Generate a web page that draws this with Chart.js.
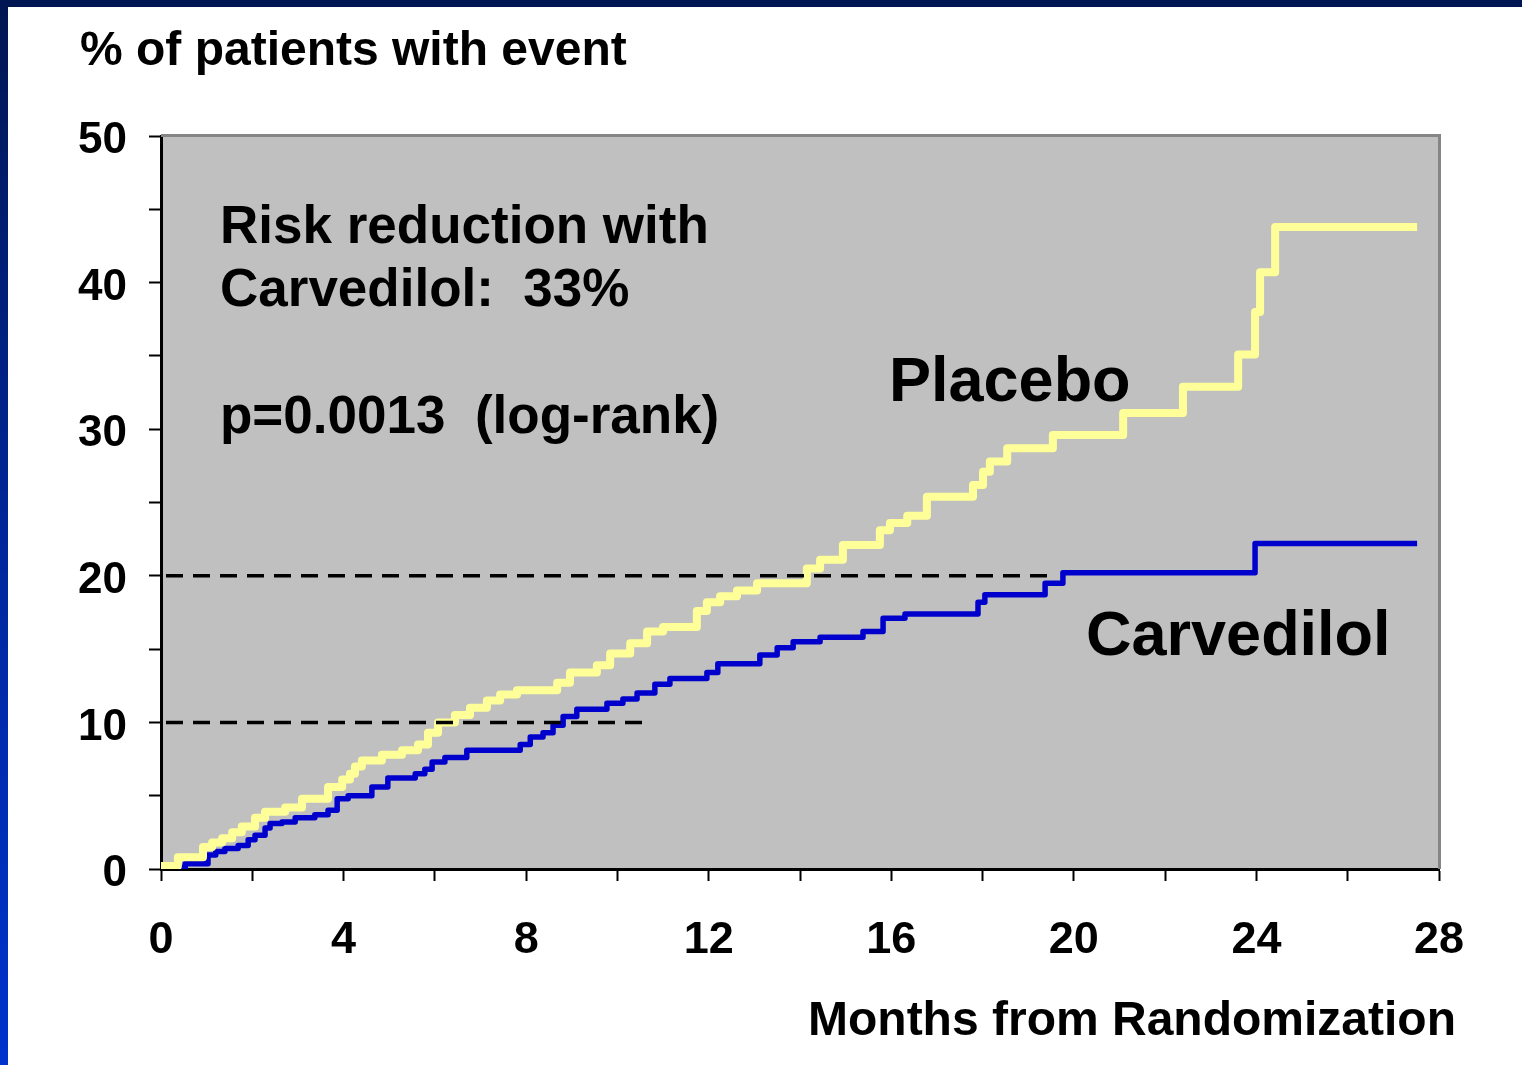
<!DOCTYPE html>
<html>
<head>
<meta charset="utf-8">
<script src="https://cdn.jsdelivr.net/npm/chart.js@4.4.1/dist/chart.umd.min.js"></script>
<style>
  html, body { margin: 0; padding: 0; background: #ffffff; }
  #wrap { position: relative; width: 1522px; height: 1065px; overflow: hidden; }
  #topbar { position: absolute; left: 0; top: 0; width: 1522px; height: 7px; background: #001652; z-index: 2; }
  #leftbar { position: absolute; left: 0; top: 0; width: 8px; height: 1065px; background: linear-gradient(to bottom, #001652 0%, #0028a0 55%, #0033cc 100%); z-index: 2; }
  canvas { position: absolute; left: 0; top: 0; }
</style>
</head>
<body>
<div id="wrap">
  <div id="topbar"></div>
  <div id="leftbar"></div>
  <canvas id="c" width="1522" height="1065"></canvas>
</div>
<script>
// ---- Data ----
const placeboMonths = [0, 0.37, 0.92, 1.12, 1.34, 1.56, 1.77, 2.06, 2.28, 2.72, 3.09, 3.66, 3.97, 4.14, 4.25, 4.40, 4.84, 5.28, 5.63, 5.85, 6.07, 6.44, 6.77, 7.14, 7.43, 7.80, 8.68, 8.96, 9.55, 9.84, 10.28, 10.65, 11.0, 11.74, 11.96, 12.25, 12.62, 13.06, 14.15, 14.44, 14.94, 15.75, 15.97, 16.35, 16.78, 17.79, 18.01, 18.16, 18.54, 19.54, 21.08, 22.39, 23.60, 23.97, 24.08, 24.41, 27.52];
const placeboPct    = [0.2, 0.8, 1.5, 1.8, 2.1, 2.5, 2.9, 3.5, 3.9, 4.2, 4.8, 5.6, 6.1, 6.5, 7.0, 7.4, 7.8, 8.1, 8.5, 9.3, 10.0, 10.5, 11.0, 11.5, 11.9, 12.2, 12.7, 13.4, 13.9, 14.7, 15.4, 16.2, 16.5, 17.6, 18.2, 18.6, 19.0, 19.5, 20.5, 21.1, 22.1, 23.1, 23.6, 24.1, 25.4, 26.2, 27.1, 27.8, 28.7, 29.6, 31.1, 32.9, 35.1, 38.0, 40.7, 43.8, 43.8];

const carvedilolMonths = [0, 0.53, 1.03, 1.2, 1.40, 1.69, 1.91, 2.06, 2.28, 2.39, 2.65, 2.94, 3.37, 3.66, 3.86, 4.10, 4.62, 4.97, 5.57, 5.78, 5.94, 6.22, 6.70, 7.87, 8.09, 8.37, 8.59, 8.81, 9.11, 9.77, 10.12, 10.43, 10.82, 11.15, 11.96, 12.20, 13.12, 13.50, 13.85, 14.44, 15.38, 15.82, 16.30, 17.90, 18.05, 19.37, 19.76, 23.97, 27.52];
const carvedilolPct    = [0.1, 0.35, 0.95, 1.2, 1.4, 1.6, 2.0, 2.3, 2.8, 3.1, 3.2, 3.5, 3.7, 4.0, 4.8, 5.0, 5.6, 6.2, 6.5, 6.8, 7.3, 7.6, 8.1, 8.5, 9.0, 9.3, 9.8, 10.4, 10.9, 11.3, 11.6, 12.0, 12.6, 13.0, 13.4, 14.0, 14.6, 15.1, 15.5, 15.8, 16.2, 17.1, 17.4, 18.2, 18.7, 19.5, 20.2, 22.2, 22.2];

const refLevels    = [20, 10];
const refEndMonths = [19.45, 10.56];

const yTickValues = [0, 10, 20, 30, 40, 50];
const xTickValues = [0, 4, 8, 12, 16, 20, 24, 28];

const yAxisTitle = '% of patients with event';
const xAxisTitle = 'Months from Randomization';
const noteLines  = ['Risk reduction with', 'Carvedilol:  33%', 'p=0.0013  (log-rank)'];
const seriesNames = ['Placebo', 'Carvedilol'];

// ---- Build datasets ----
const toPts = (xs, ys) => xs.map((x, i) => ({ x: x, y: ys[i] }));
const FONT = '"Liberation Sans", Arial, Helvetica, sans-serif';

const refDatasets = refLevels.map((lv, i) => ({
  label: 'ref' + lv,
  data: [{ x: 0, y: lv }, { x: refEndMonths[i], y: lv }],
  borderColor: '#000000',
  borderWidth: 3.5,
  borderDash: [17, 10],
  borderDashOffset: 22,
  borderCapStyle: 'butt',
  pointRadius: 0,
  stepped: false,
  order: 0
}));

const bgPlugin = {
  id: 'bgPlugin',
  beforeDraw(chart) {
    const { ctx, chartArea: a } = chart;
    ctx.save();
    ctx.fillStyle = '#c0c0c0';
    ctx.fillRect(a.left, a.top, a.right - a.left, a.bottom - a.top);
    ctx.restore();
  },
  afterDraw(chart) {
    const { ctx, chartArea: a } = chart;
    ctx.save();
    ctx.strokeStyle = '#858585';
    ctx.lineWidth = 3;
    ctx.beginPath();
    ctx.moveTo(a.left, a.top - 0.5);
    ctx.lineTo(a.right + 0.5, a.top - 0.5);
    ctx.lineTo(a.right + 0.5, a.bottom);
    ctx.stroke();

    ctx.fillStyle = '#000000';
    ctx.textBaseline = 'alphabetic';
    ctx.textAlign = 'left';
    ctx.font = 'bold 48px ' + FONT;
    ctx.fillText(yAxisTitle, 80, 65);
    ctx.fillText(xAxisTitle, 808, 1035);

    ctx.font = 'bold 53px ' + FONT;
    ctx.fillText(noteLines[0], 220, 243);
    ctx.fillText(noteLines[1], 220, 306);
    ctx.fillText(noteLines[2], 220, 433);

    ctx.font = 'bold 63px ' + FONT;
    ctx.fillText(seriesNames[0], 889, 401);
    ctx.fillText(seriesNames[1], 1086, 655);
    ctx.restore();
  }
};

const placeboStyle = { color: '#ffff99', width: 8 };
const carvedilolStyle = { color: '#0000cc', width: 5.5 };

new Chart(document.getElementById('c'), {
  type: 'line',
  data: {
    datasets: [
      ...refDatasets,
      {
        label: seriesNames[0],
        data: toPts(placeboMonths, placeboPct),
        borderColor: placeboStyle.color,
        borderWidth: placeboStyle.width,
        borderJoinStyle: 'round',
        borderCapStyle: 'butt',
        pointRadius: 0,
        stepped: true,
        fill: false,
        order: 1
      },
      {
        label: seriesNames[1],
        data: toPts(carvedilolMonths, carvedilolPct),
        borderColor: carvedilolStyle.color,
        borderWidth: carvedilolStyle.width,
        borderJoinStyle: 'round',
        borderCapStyle: 'butt',
        pointRadius: 0,
        stepped: true,
        fill: false,
        order: 2
      }
    ]
  },
  options: {
    responsive: false,
    animation: false,
    events: [],
    elements: { line: { borderWidth: 6 } },
    layout: { padding: { top: 136, right: 83, left: 0, bottom: 0 } },
    plugins: { legend: { display: false }, tooltip: { enabled: false }, title: { display: false } },
    scales: {
      x: {
        type: 'linear',
        min: 0, max: 28,
        afterFit(scale) { scale.height = 196; },
        afterBuildTicks(scale) {
          const t = [];
          for (let v = 0; v <= 28; v += 2) t.push({ value: v });
          scale.ticks = t;
        },
        ticks: {
          autoSkip: false,
          maxRotation: 0,
          padding: 33,
          color: '#000000',
          font: { family: FONT, size: 45, weight: 'bold' },
          callback: (v) => xTickValues.includes(v) ? String(v) : ''
        },
        grid: { drawOnChartArea: false, drawTicks: true, tickLength: 12, tickColor: '#000000', tickWidth: 2 },
        border: { display: true, color: '#000000', width: 3 }
      },
      y: {
        type: 'linear',
        min: 0, max: 50,
        afterFit(scale) { scale.width = 161; },
        afterBuildTicks(scale) {
          const t = [];
          for (let v = 0; v <= 50; v += 5) t.push({ value: v });
          scale.ticks = t;
        },
        ticks: {
          autoSkip: false,
          padding: 22,
          labelOffset: 5,
          color: '#000000',
          font: { family: FONT, size: 44, weight: 'bold' },
          callback: (v) => yTickValues.includes(v) ? String(v) : ''
        },
        grid: { drawOnChartArea: false, drawTicks: true, tickLength: 12, tickColor: '#000000', tickWidth: 2 },
        border: { display: true, color: '#000000', width: 3 }
      }
    }
  },
  plugins: [bgPlugin]
});
</script>
</body>
</html>
